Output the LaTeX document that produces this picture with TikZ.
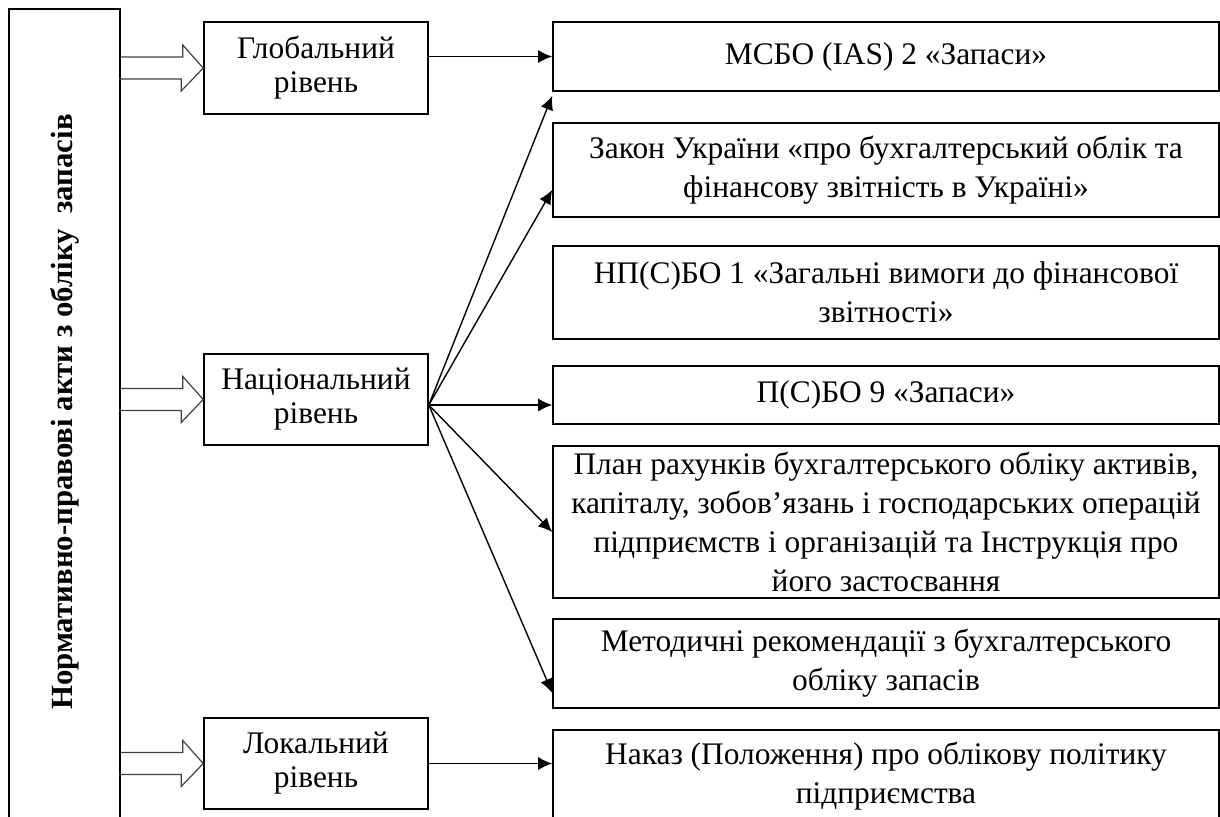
\documentclass[tikz,border=0pt]{standalone}
\usepackage{fontspec}
\setmainfont{Liberation Serif}
\usetikzlibrary{arrows.meta}

% block arrow from the left column into a level box
\newcommand{\levelarrow}[1]{%
  \draw[hollow] ([yshift=5.5pt]norm.east |- #1.west) -- ++(62,0) -- ++(0,-12)
    -- (#1.west) -- ++(-22,23) -- ++(0,-12) -- ++(-62,0);}

\begin{document}
\begin{tikzpicture}[x=0.5pt, y=-0.5pt,
    box/.style={draw, line width=0.8pt, rectangle, align=center, inner sep=2pt},
    level/.style={box, minimum width=112pt, font=\fontsize{15.7}{17}\selectfont},
    doc/.style={box, minimum width=333pt, font=\fontsize{15.7}{19.5}\selectfont},
    link/.style={-{Latex[length=7pt,width=6.5pt]}, line width=0.7pt},
    hollow/.style={draw=black!75, line width=0.6pt}]
    \clip (0,0) rectangle (1220,816);

    % Left column
    \node[draw, line width=0.8pt, minimum width=55.5pt, minimum height=410.5pt] (norm) at (64.5,419.5) {};
    \node[rotate=90, font=\bfseries\fontsize{15.4}{18}\selectfont] (normtext) at (65,412)
        {Нормативно-правові акти з обліку \ запасів};

    % Levels
    \node[level, minimum height=46pt] (glob) at (316,68) {Глобальний\\рівень};
    \node[level, minimum height=45.5pt] (nat) at (316,399.5) {Національний\\рівень};
    \node[level, minimum height=45.5pt] (loc) at (316,763.5) {Локальний\\рівень};

    \levelarrow{glob}
    \levelarrow{nat}
    \levelarrow{loc}

    % Documents
    \node[doc, minimum height=34.5pt] (msbo) at (886,56.5) {МСБО (IAS) 2 «Запаси»};
    \node[doc, minimum height=47pt] (zakon) at (886,170)
        {Закон України «про бухгалтерський облік та\\фінансову звітність в Україні»};
    \node[doc, minimum height=46.5pt] (npsbo) at (886,292.5)
        {НП(С)БО 1 «Загальні вимоги до фінансової\\звітності»};
    \node[doc, minimum height=29pt] (psbo) at (886,395) {П(С)БО 9 «Запаси»};
    \node[doc, minimum height=76pt] (plan) at (886,522)
        {План рахунків бухгалтерського обліку активів,\\капіталу, зобов’язань і господарських операцій\\підприємств і організацій та Інструкція про\\його застосвання};
    \node[doc, minimum height=44.5pt] (metod) at (886,663.5)
        {Методичні рекомендації з бухгалтерського\\обліку запасів};
    \node[doc, minimum height=46pt] (nakaz) at (886,776)
        {Наказ (Положення) про облікову політику\\підприємства};

    % Links
    \draw[link] (glob.east |- msbo.west) -- (msbo.west);
    \draw[link] (loc.east) -- (loc.east -| nakaz.west);

    \coordinate (hub) at ([yshift=-2.75pt]nat.east);
    \draw[link] (hub) -- ([yshift=-2pt]msbo.south west);
    \draw[link] (hub) -- ([yshift=-10pt]zakon.west);
    \draw[link] (hub) -- (hub -| psbo.west);
    \draw[link] (hub) -- ([yshift=-5pt]plan.west);
    \draw[link] (hub) -- ([yshift=8pt]metod.south west);
\end{tikzpicture}
\end{document}
